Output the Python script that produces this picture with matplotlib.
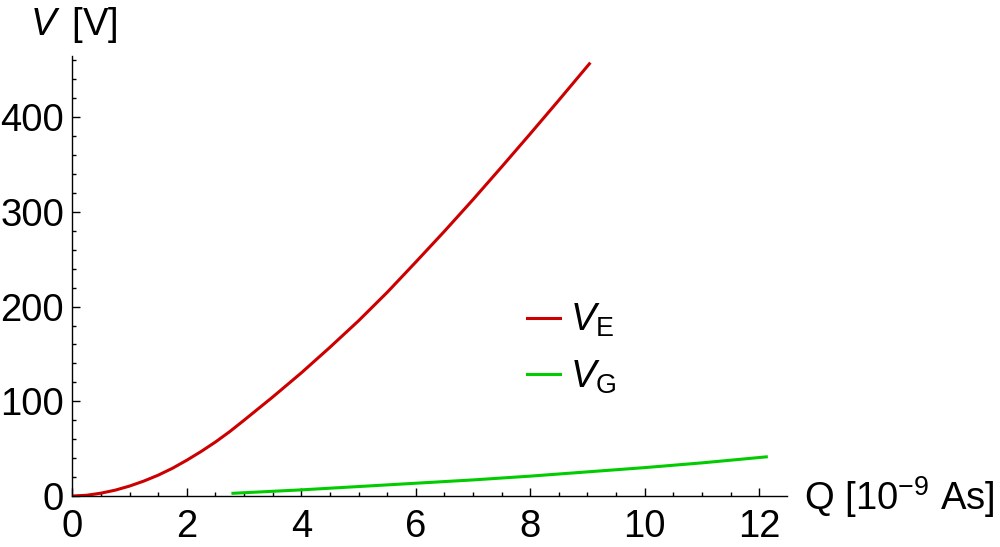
import matplotlib
matplotlib.use("Agg")
import matplotlib.pyplot as plt
from matplotlib.lines import Line2D
from matplotlib.ticker import MultipleLocator

plt.rcParams['font.family'] = ['Liberation Sans', 'DejaVu Sans']
plt.rcParams['mathtext.fontset'] = 'custom'
plt.rcParams['mathtext.rm'] = 'Liberation Sans'
plt.rcParams['mathtext.it'] = 'Liberation Sans:italic'
plt.rcParams['mathtext.bf'] = 'Liberation Sans:bold'

# Data
q_e = [0, 0.25, 0.5, 0.75, 1, 1.25, 1.5, 1.75, 2, 2.25, 2.5, 2.75, 3, 3.5, 4, 4.5,
       5, 5.5, 6, 6.5, 7, 7.5, 8, 8.5, 9.05]
v_e = [0, 0.8, 3, 6.2, 10.5, 15.8, 22, 29.3, 37.8, 47, 57, 68, 80, 104.5, 130, 157,
       185, 215, 247, 279.5, 313, 347.5, 382.5, 418, 457.6]
q_g = [2.78, 4, 5, 6, 7, 8, 9, 10, 11, 12.15]
v_g = [2.8, 6.5, 10, 13.5, 17, 21, 25.5, 30, 35, 41.5]
x_ticks = [0, 2, 4, 6, 8, 10, 12]
y_ticks = [0, 100, 200, 300, 400]

red = '#cc0000'
green = '#00cc00'
FS = 27.5

fig = plt.figure(figsize=(10, 5.47), dpi=100)
ax = fig.add_axes([0.0723, 0.0932, 0.7144, 0.8044])

ax.plot(q_e, v_e, color=red, lw=2.2, solid_capstyle='butt', solid_joinstyle='round')
ax.plot(q_g, v_g, color=green, lw=2.2, solid_capstyle='butt', solid_joinstyle='round')

ax.set_xlim(0, 12.48)
ax.set_ylim(0, 464.6)
ax.set_xticks(x_ticks)
ax.set_yticks(y_ticks)
ax.xaxis.set_minor_locator(MultipleLocator(0.5))
ax.yaxis.set_minor_locator(MultipleLocator(20))

for s in ['top', 'right']:
    ax.spines[s].set_visible(False)
for s in ['left', 'bottom']:
    ax.spines[s].set_linewidth(1.0)

ax.tick_params(which='both', direction='in', width=1.0, labelsize=FS)
ax.tick_params(which='major', length=5.5)
ax.tick_params(which='minor', length=3)
ax.tick_params(axis='x', which='major', pad=9)
ax.tick_params(axis='y', which='major', pad=6)

fig.text(0.0735, 1 - 35 / 547, r'$V\,$ [V]', fontsize=FS, ha='center', va='baseline')
fig.text(0.804, 1 - 510 / 547, r'Q [10$^{-9}$ As]', fontsize=FS, ha='left', va='baseline')

handles = [Line2D([], [], color=red, lw=2.2), Line2D([], [], color=green, lw=2.2)]
labels = [r'$V_{\mathrm{E}}$', r'$V_{\mathrm{G}}$']
leg = ax.legend(handles, labels, loc='upper left', bbox_to_anchor=(0.527, 1 - 302 / 547),
                bbox_transform=fig.transFigure, frameon=False, fontsize=FS,
                handlelength=0.864, handletextpad=0.25, labelspacing=0.5,
                borderpad=0, borderaxespad=0)

fig.savefig('out.png', dpi=100)
